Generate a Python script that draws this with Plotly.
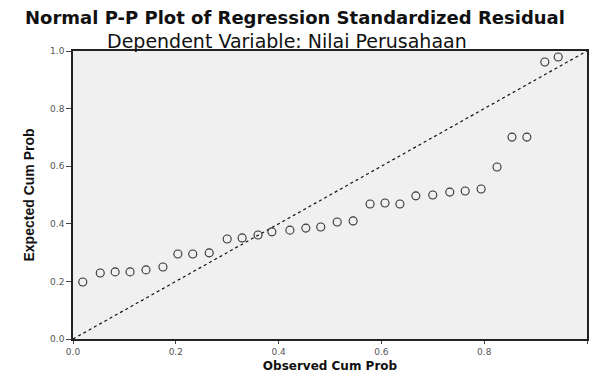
import plotly.graph_objects as go

observed_cum_prob = [0.019, 0.053, 0.082, 0.111, 0.142, 0.175, 0.204, 0.233, 0.265, 0.300,
                     0.329, 0.360, 0.387, 0.422, 0.453, 0.482, 0.514, 0.545, 0.578, 0.607,
                     0.636, 0.667, 0.700, 0.733, 0.763, 0.794, 0.825, 0.854, 0.883, 0.918,
                     0.944]
expected_cum_prob = [0.198, 0.229, 0.233, 0.233, 0.240, 0.250, 0.295, 0.295, 0.299, 0.347,
                     0.351, 0.361, 0.372, 0.378, 0.385, 0.389, 0.406, 0.410, 0.469, 0.472,
                     0.469, 0.497, 0.500, 0.510, 0.514, 0.521, 0.597, 0.701, 0.701, 0.962,
                     0.979]
ref_line_x = [0.0, 1.0]
ref_line_y = [0.0, 1.0]
tick_vals = [0.0, 0.2, 0.4, 0.6, 0.8, 1.0]
tick_text = ["0.0", "0.2", "0.4", "0.6", "0.8", "1.0"]

fig = go.Figure()
fig.add_trace(go.Scatter(x=ref_line_x, y=ref_line_y, mode="lines",
                         line=dict(color="#111111", width=1.2, dash="dot"),
                         showlegend=False, hoverinfo="skip"))
fig.add_trace(go.Scatter(x=observed_cum_prob, y=expected_cum_prob, mode="markers",
                         marker=dict(symbol="circle-open", size=8,
                                     color="#333333", line=dict(width=1.1, color="#333333")),
                         showlegend=False))

fig.update_layout(
    width=592, height=374,
    margin=dict(l=73, r=5, t=51, b=35, autoexpand=False),
    paper_bgcolor="white",
    plot_bgcolor="#f0f0f0",
    font=dict(family="DejaVu Sans", color="#111111"),
    annotations=[
        dict(text="<b>Normal P-P Plot of Regression Standardized Residual</b>",
             x=0.432, xref="paper", y=1, yref="paper", yanchor="middle", yshift=34,
             showarrow=False, font=dict(size=18, family="DejaVu Sans")),
        dict(text="Dependent Variable: Nilai Perusahaan",
             x=0.416, xref="paper", y=1, yref="paper", yanchor="middle", yshift=10,
             showarrow=False, font=dict(size=19, family="DejaVu Sans")),
    ],
)

fig.update_xaxes(range=[0, 1], tickvals=tick_vals, ticktext=tick_text,
                 showgrid=False, zeroline=False,
                 showline=True, linecolor="#222222", linewidth=1.5, mirror=True,
                 ticks="outside", ticklen=3, tickcolor="#444444",
                 tickfont=dict(size=9, color="#555555"),
                 title=dict(text="<b>Observed Cum Prob</b>", font=dict(size=12), standoff=6))
fig.update_yaxes(range=[0, 1], tickvals=tick_vals, ticktext=tick_text,
                 showgrid=False, zeroline=False,
                 showline=True, linecolor="#222222", linewidth=1.5, mirror=True,
                 ticks="outside", ticklen=5, tickcolor="#444444",
                 tickfont=dict(size=9, color="#555555"),
                 title=dict(text="<b>Expected Cum Prob</b>",
                            font=dict(size=14, family="Liberation Sans Narrow, Liberation Sans"),
                            standoff=12))

fig.write_html("out.html", config={"displayModeBar": False},
               post_script="document.body.style.margin='0';")
